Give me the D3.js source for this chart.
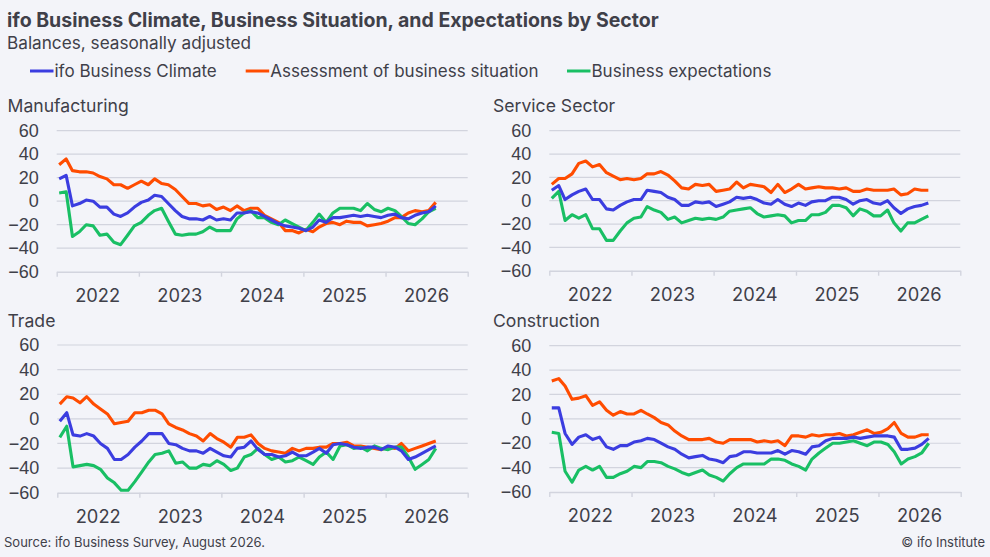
<!DOCTYPE html>
<html>
<head>
<meta charset="utf-8">
<script src="https://cdn.jsdelivr.net/npm/d3@7"></script>
<style>
  body { margin: 0; background: #f3f4f9; }
  svg { display: block; font-family: Inter, "Noto Sans", sans-serif; }
</style>
</head>
<body>
<script>
/* ifo business climate by sector - four small multiples */

// months Jan 2022 .. Aug 2026 (points sit a little into each month)
const mois = d3.timeMonth.range(new Date(2022, 0, 1), new Date(2026, 8, 1))
  .map(d => d3.timeDay.offset(d, 11));
const annees = ['2022', '2023', '2024', '2025', '2026'];
const ticksY = [-60, -40, -20, 0, 20, 40, 60];
const series = ['ifo Business Climate', 'Assessment of business situation', 'Business expectations'];
const couleurs = ['#3b3de0', '#ff4c00', '#19bf64'];

// Manufacturing
const mfgClimat = [19,22,-4,-2,1,0,-5,-5,-11,-13,-10,-5,-1,1,5,4,-2,-8,-13,-15,-15,-16,-13,-16,-15,-16,-10,-10,-9,-10,-13,-16,-19,-21,-22,-23,-25,-22,-16,-18,-14,-14,-13,-12,-13,-12,-13,-14,-12,-11,-14,-15,-12,-10,-9,-4];
const mfgSituation = [31,36,26,25,25,24,21,19,14,14,11,14,17,14,19,15,14,10,4,-2,-2,-4,-3,-7,-5,-8,-4,-8,-6,-6,-12,-15,-18,-25,-25,-27,-24,-26,-22,-19,-18,-20,-17,-18,-18,-21,-20,-19,-17,-14,-14,-10,-8,-9,-8,-1];
const mfgAttentes = [7,8,-30,-26,-20,-21,-29,-28,-35,-37,-29,-21,-18,-12,-8,-6,-17,-28,-29,-28,-28,-26,-22,-25,-25,-25,-15,-10,-8,-14,-14,-18,-20,-16,-19,-22,-25,-18,-11,-18,-10,-6,-6,-6,-8,-2,-7,-9,-6,-8,-13,-19,-20,-15,-9,-6];

// Service sector
const srvClimat = [9,13,1,5,8,10,1,1,-7,-8,-4,-1,1,1,9,8,7,3,1,-4,-4,-1,-2,-1,-5,-3,-1,3,2,3,1,-2,-3,1,-3,-5,-2,-4,-1,0,0,3,3,1,-3,0,1,-2,-3,0,-6,-11,-7,-5,-4,-2];
const srvSituation = [14,19,19,23,32,34,29,31,24,21,18,19,18,19,23,23,25,22,17,11,10,14,13,14,8,9,10,16,11,14,13,12,7,14,7,10,14,10,11,12,11,11,10,11,8,8,10,9,9,9,10,5,6,10,9,9];
const srvAttentes = [2,8,-17,-12,-15,-12,-24,-24,-34,-34,-26,-19,-15,-14,-5,-8,-10,-16,-14,-19,-17,-15,-16,-15,-16,-14,-9,-8,-7,-6,-11,-14,-13,-12,-13,-19,-17,-17,-12,-12,-10,-4,-4,-6,-13,-7,-9,-13,-13,-8,-19,-26,-19,-19,-16,-13];

// Trade
const trdClimat = [-2,5,-13,-14,-12,-14,-20,-24,-33,-33,-29,-23,-18,-12,-12,-12,-20,-21,-24,-26,-26,-28,-24,-27,-30,-31,-24,-23,-18,-25,-29,-29,-31,-30,-27,-30,-30,-27,-24,-28,-21,-20,-21,-23,-24,-23,-23,-25,-22,-23,-26,-33,-31,-28,-25,-22];
const trdSituation = [12,18,17,13,18,12,8,4,-4,-3,-2,5,5,7,7,4,-4,-7,-9,-12,-14,-18,-12,-16,-19,-23,-15,-15,-13,-20,-24,-26,-27,-28,-24,-26,-24,-24,-23,-23,-20,-20,-19,-22,-22,-23,-24,-25,-23,-24,-20,-26,-24,-22,-20,-18];
const trdAttentes = [-15,-6,-39,-38,-37,-38,-41,-48,-52,-58,-58,-51,-43,-35,-29,-28,-26,-36,-35,-40,-40,-37,-38,-34,-37,-42,-40,-31,-29,-24,-29,-33,-31,-35,-34,-31,-34,-37,-31,-27,-33,-22,-21,-24,-23,-26,-22,-24,-25,-23,-23,-31,-41,-37,-33,-24];

// Construction
const conClimat = [9,9,-12,-21,-15,-13,-17,-15,-23,-25,-22,-22,-19,-18,-16,-17,-20,-23,-25,-29,-32,-31,-30,-33,-34,-36,-31,-30,-27,-27,-28,-28,-28,-26,-29,-26,-27,-29,-23,-22,-18,-16,-16,-16,-15,-16,-15,-14,-14,-14,-15,-25,-25,-24,-21,-16];
const conSituation = [31,33,27,16,17,19,11,14,7,3,6,4,4,7,4,1,-3,-5,-10,-14,-17,-17,-17,-16,-19,-20,-17,-17,-17,-17,-19,-18,-19,-18,-22,-14,-14,-15,-13,-14,-13,-13,-12,-14,-13,-11,-9,-12,-11,-8,-3,-12,-15,-15,-13,-13];
const conAttentes = [-11,-12,-43,-52,-42,-39,-42,-39,-48,-48,-45,-43,-39,-40,-35,-35,-36,-39,-41,-44,-46,-44,-42,-46,-48,-51,-45,-40,-37,-37,-37,-37,-33,-33,-34,-37,-39,-42,-33,-28,-24,-20,-20,-19,-18,-20,-22,-19,-19,-21,-27,-37,-33,-31,-28,-20];

const panneaux = [
  {titre: 'Manufacturing', vals: [mfgClimat, mfgSituation, mfgAttentes], tx: 7.5, ty: 111.7, x0: 56.7, x1: 467.7, y0: 130.7, y1: 271.7},
  {titre: 'Service Sector', vals: [srvClimat, srvSituation, srvAttentes], tx: 493, ty: 111.7, x0: 549.3, x1: 960.3, y0: 130.7, y1: 270.7},
  {titre: 'Trade', vals: [trdClimat, trdSituation, trdAttentes], tx: 7.5, ty: 327.3, x0: 57.3, x1: 467.7, y0: 345, y1: 492.7},
  {titre: 'Construction', vals: [conClimat, conSituation, conAttentes], tx: 493, ty: 327.3, x0: 549.3, x1: 960.7, y0: 345.7, y1: 492}
];

const texte = '#3f4049';
const grille = '#d2d4de';

const canevas = d3.select('body')
  .append('svg')
  .attr('width', 990)
  .attr('height', 557)
  .attr('viewBox', '0 0 990 557');

canevas.append('rect').attr('width', 990).attr('height', 557).attr('fill', '#f3f4f9');

// titles
canevas.append('text')
  .attr('x', 7).attr('y', 27)
  .attr('font-size', 19.5).attr('font-weight', 700).attr('fill', texte)
  .text('ifo Business Climate, Business Situation, and Expectations by Sector');
canevas.append('text')
  .attr('x', 7).attr('y', 49.3)
  .attr('font-size', 17.2).attr('fill', texte)
  .text('Balances, seasonally adjusted');

// legend
const legendeX = [30, 245.7, 567];
const legende = canevas.selectAll('g.legende')
  .data(series)
  .enter()
  .append('g')
  .attr('class', 'legende')
  .attr('transform', (d, i) => `translate(${legendeX[i]},71)`);
legende.append('line')
  .attr('x1', 0).attr('x2', 23.5)
  .attr('stroke', (d, i) => couleurs[i]).attr('stroke-width', 3);
legende.append('text')
  .attr('x', 24.5).attr('y', 5.8)
  .attr('font-size', 17).attr('fill', texte)
  .text(d => d);

// panels
panneaux.forEach(p => {
  const x = d3.scaleTime()
    .domain([new Date(2022, 0, 1), new Date(2027, 0, 1)])
    .range([p.x0, p.x1]);
  const y = d3.scaleLinear().domain([-60, 60]).range([p.y1, p.y0]);
  const g = canevas.append('g');

  g.append('text')
    .attr('x', p.tx).attr('y', p.ty)
    .attr('font-size', 17.6).attr('fill', texte)
    .text(p.titre);

  // grid lines
  g.selectAll('line.grille')
    .data(ticksY.slice(1))
    .enter()
    .append('line')
    .attr('x1', p.x0).attr('x2', p.x1)
    .attr('y1', d => y(d)).attr('y2', d => y(d))
    .attr('stroke', grille).attr('stroke-width', 1.2);

  // y axis labels
  const axeY = d3.axisLeft(y).tickValues(ticksY).tickSize(0).tickPadding(0);
  g.append('g')
    .attr('transform', `translate(${p.x0 - 18},0)`)
    .call(axeY)
    .call(a => a.select('.domain').remove())
    .call(a => a.selectAll('text').attr('font-size', 18).attr('fill', texte).attr('font-family', null));

  // x axis: year boundaries + centred labels
  const axeX = d3.axisBottom(x)
    .ticks(d3.timeYear.every(1))
    .tickFormat('')
    .tickSize(5)
    .tickSizeOuter(0);
  g.append('g')
    .attr('transform', `translate(0,${p.y1})`)
    .call(axeX)
    .call(a => a.select('.domain').attr('stroke', grille).attr('stroke-width', 1.4))
    .call(a => a.selectAll('.tick line').attr('stroke', grille).attr('stroke-width', 1.4));

  g.selectAll('text.annee')
    .data(annees)
    .enter()
    .append('text')
    .attr('class', 'annee')
    .attr('x', d => x(new Date(+d, 6, 2)))
    .attr('y', p.y1 + 30)
    .attr('text-anchor', 'middle')
    .attr('font-size', 18.3).attr('fill', texte)
    .text(d => d);

  // lines (situation under, then expectations, climate on top)
  const ligne = d3.line()
    .x((d, i) => x(mois[i]))
    .y(d => y(d));
  [1, 2, 0].forEach(k => {
    g.append('path')
      .attr('d', ligne(p.vals[k]))
      .attr('fill', 'none')
      .attr('stroke', couleurs[k])
      .attr('stroke-width', 3.1)
      .attr('stroke-linejoin', 'round');
  });
});

// footer
canevas.append('text')
  .attr('x', 4).attr('y', 547)
  .attr('font-size', 13).attr('fill', texte)
  .text('Source: ifo Business Survey, August 2026.');
canevas.append('text')
  .attr('x', 985).attr('y', 547)
  .attr('text-anchor', 'end')
  .attr('font-size', 13).attr('fill', texte)
  .text('© ifo Institute');
</script>
</body>
</html>
